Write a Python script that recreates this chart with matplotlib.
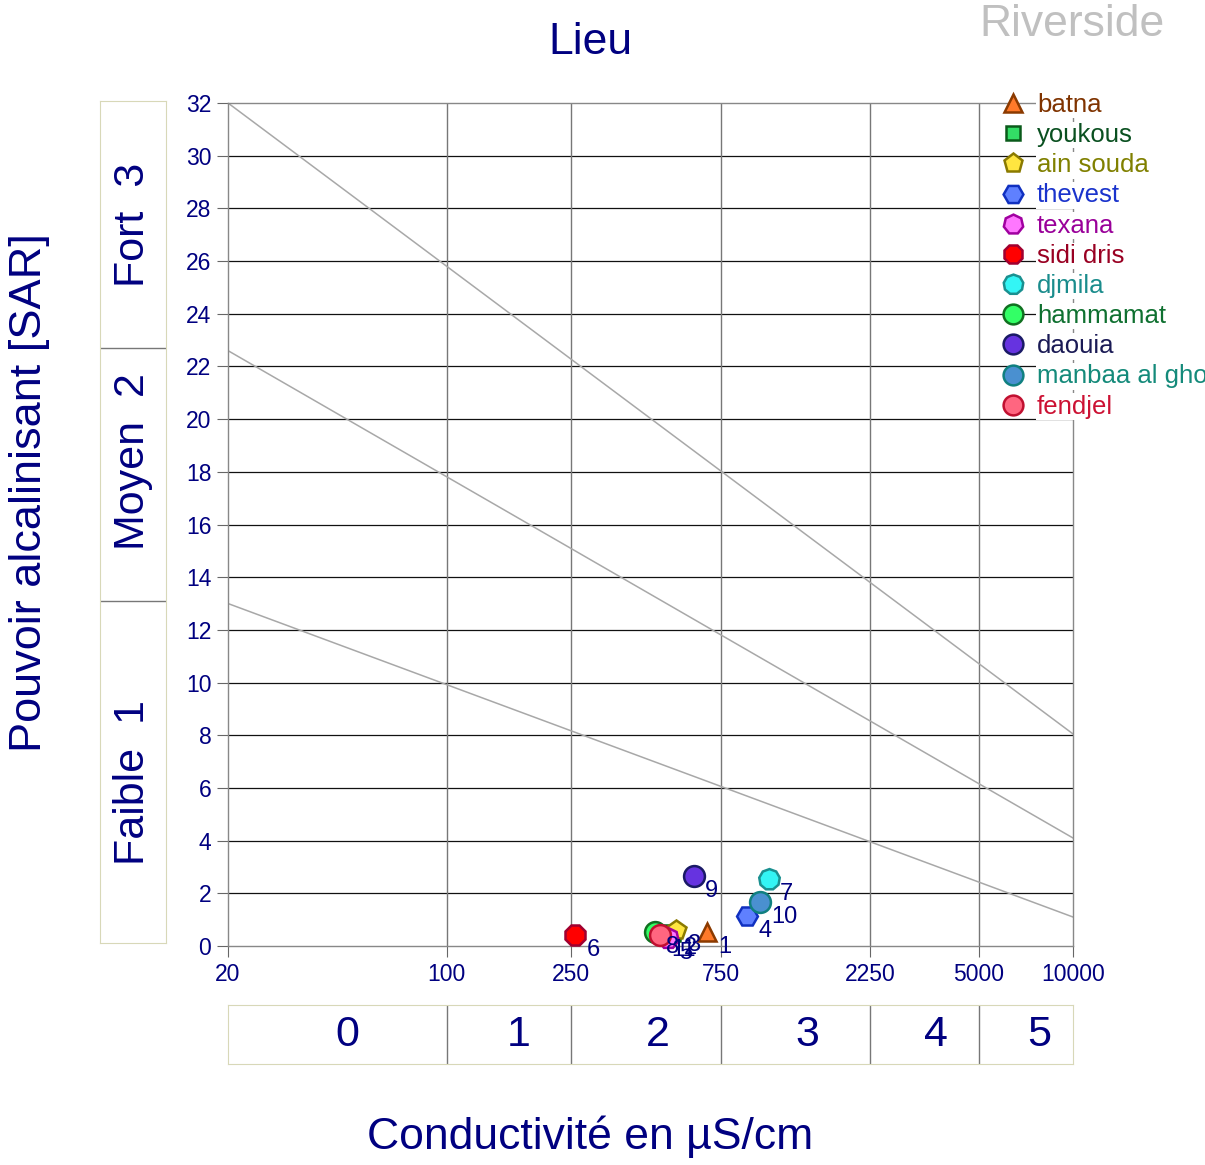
import numpy as np
import matplotlib
matplotlib.use("Agg")
import matplotlib.pyplot as plt

plt.rcParams['font.family'] = ['Liberation Sans', 'DejaVu Sans']

# Sample sites: conductivity (uS/cm) and SAR
sites = ['batna', 'youkous', 'ain souda', 'thevest', 'texana', 'sidi dris',
         'djmila', 'hammamat', 'daouia', 'manbaa al ghozlane', 'fendjel']
conductivity = [678, 525, 540, 910, 509, 257, 1069, 463, 617, 1003, 480]
sar = [0.53, 0.50, 0.61, 1.14, 0.30, 0.42, 2.54, 0.53, 2.66, 1.67, 0.42]

# Riverside class boundaries (SAR at EC=20 and EC=10000)
boundary_sar_low = [13.0, 22.6, 32.0]
boundary_sar_high = [1.1, 4.1, 8.05]
ec_limits = [20, 10000]
ec_classes = [100, 250, 750, 2250, 5000]
ec_class_labels = ['0', '1', '2', '3', '4', '5']
ec_label_pos = [48, 170, 473, 1416, 3656, 7800]
x_ticks = [20, 100, 250, 750, 2250, 5000, 10000]
y_ticks = list(range(0, 33, 2))
sar_classes = ['Faible  1', 'Moyen  2', 'Fort  3']
sar_label_pos = [6.1, 18.3, 27.3]

# marker styles
markers = ['^', 's', 'p', 'H', (7, 0, 0), '8', (9, 0, 0), 'o', 'o', 'o', 'o']
msizes = [13, 11, 15, 15, 15, 15, 15, 15, 15, 15, 15]
faces = ['#ff7a2a', '#33dd66', '#ffe640', '#5f80ff', '#ff77ff', '#ff0000',
         '#33f5f5', '#33ff66', '#6633e0', '#4a90d0', '#ff6680']
edges = ['#8b3a00', '#0a5a1a', '#8a7a00', '#1030c0', '#a000a0', '#a00030',
         '#1a9090', '#107020', '#1a1a66', '#108080', '#c01030']
text_cols = ['#7f3300', '#0a5020', '#808000', '#1a33cc', '#990099', '#990022',
             '#1a8c8c', '#0f7030', '#1a1a55', '#148a7a', '#cc1133']

navy = '#000080'
W, H = 1205, 1165
fig = plt.figure(figsize=(W / 100, H / 100), dpi=100)

ax_l, ax_r, ax_t, ax_b = 228, 1073, 103, 946
ax = fig.add_axes([ax_l / W, 1 - ax_b / H, (ax_r - ax_l) / W, (ax_b - ax_t) / H])
ax.set_xscale('log')
ax.set_xlim(ec_limits)
ax.set_ylim(0, 32)

for y in y_ticks[1:-1]:
    ax.axhline(y, color='#111111', lw=0.9, zorder=1)
for x in ec_classes:
    ax.axvline(x, color='#777777', lw=1.0, zorder=1)
for lo, hi in zip(boundary_sar_low, boundary_sar_high):
    ax.plot(ec_limits, [lo, hi], color='#a8a8a8', lw=1.1, zorder=2)

for s in ax.spines.values():
    s.set_color('#888888')
    s.set_linewidth(1.0)

ax.set_xticks(x_ticks)
ax.set_xticklabels([str(t) for t in x_ticks])
ax.minorticks_off()
ax.set_yticks(y_ticks)
ax.tick_params(colors='#666666', labelcolor=navy, labelsize=16.5, length=8, pad=4)

for i, name in enumerate(sites):
    ax.plot(conductivity[i], sar[i], linestyle='none', marker=markers[i],
            ms=msizes[i], mfc=faces[i], mec=edges[i], mew=1.8, label=name,
            zorder=5, clip_on=False)
    ax.annotate(str(i + 1), (conductivity[i], sar[i]), xytext=(8, -11),
                textcoords='offset points', ha='left', va='center',
                color=navy, fontsize=17, zorder=6, annotation_clip=False)

leg = ax.legend(loc='upper left', bbox_to_anchor=(1000 / W, 1 - 93 / H),
                bbox_transform=fig.transFigure, frameon=False, fontsize=18.5,
                handlelength=1.0, handletextpad=0.44, labelspacing=0.24,
                borderaxespad=0, borderpad=0, markerscale=0.95)
for t, c in zip(leg.get_texts(), text_cols):
    t.set_color(c)
    t.set_bbox(dict(facecolor='white', edgecolor='none', pad=1))

# left SAR class boxes
axl = fig.add_axes([100 / W, 1 - 943 / H, 66 / W, 842 / H])
axl.set_ylim(0, 32)
axl.set_xlim(0, 1)
axl.set_xticks([])
axl.set_yticks([])
for s in axl.spines.values():
    s.set_color('#d8d8b8')
for b in boundary_sar_low[:2]:
    axl.axhline(b, color='#777777', lw=1.0)
for lab, yp in zip(sar_classes, sar_label_pos):
    axl.text(0.5, yp, lab, rotation=90, ha='center', va='center',
             color=navy, fontsize=31)

# bottom EC class boxes
axb = fig.add_axes([ax_l / W, 1 - 1064 / H, (ax_r - ax_l) / W, 59 / H])
axb.set_xscale('log')
axb.set_xlim(ec_limits)
axb.set_ylim(0, 1)
axb.set_xticks([])
axb.set_yticks([])
axb.minorticks_off()
for s in axb.spines.values():
    s.set_color('#d8d8b8')
for x in ec_classes:
    axb.axvline(x, color='#777777', lw=1.0)
for lab, xp in zip(ec_class_labels, ec_label_pos):
    axb.text(xp, 0.5, lab, ha='center', va='center', color=navy, fontsize=31)

fig.text(590 / W, 1 - 43 / H, 'Lieu', ha='center', va='center',
         color=navy, fontsize=32)
fig.text(1165 / W, 1 - 25 / H, 'Riverside', ha='right', va='center',
         color='#c0c0c0', fontsize=32)
fig.text(590 / W, 1 - 1137 / H, 'Conductivité en µS/cm', ha='center',
         va='center', color=navy, fontsize=32)
fig.text(30 / W, 1 - 493 / H, 'Pouvoir alcalinisant [SAR]', rotation=90,
         ha='center', va='center', color=navy, fontsize=32.5)

fig.savefig('out.png', dpi=100)
